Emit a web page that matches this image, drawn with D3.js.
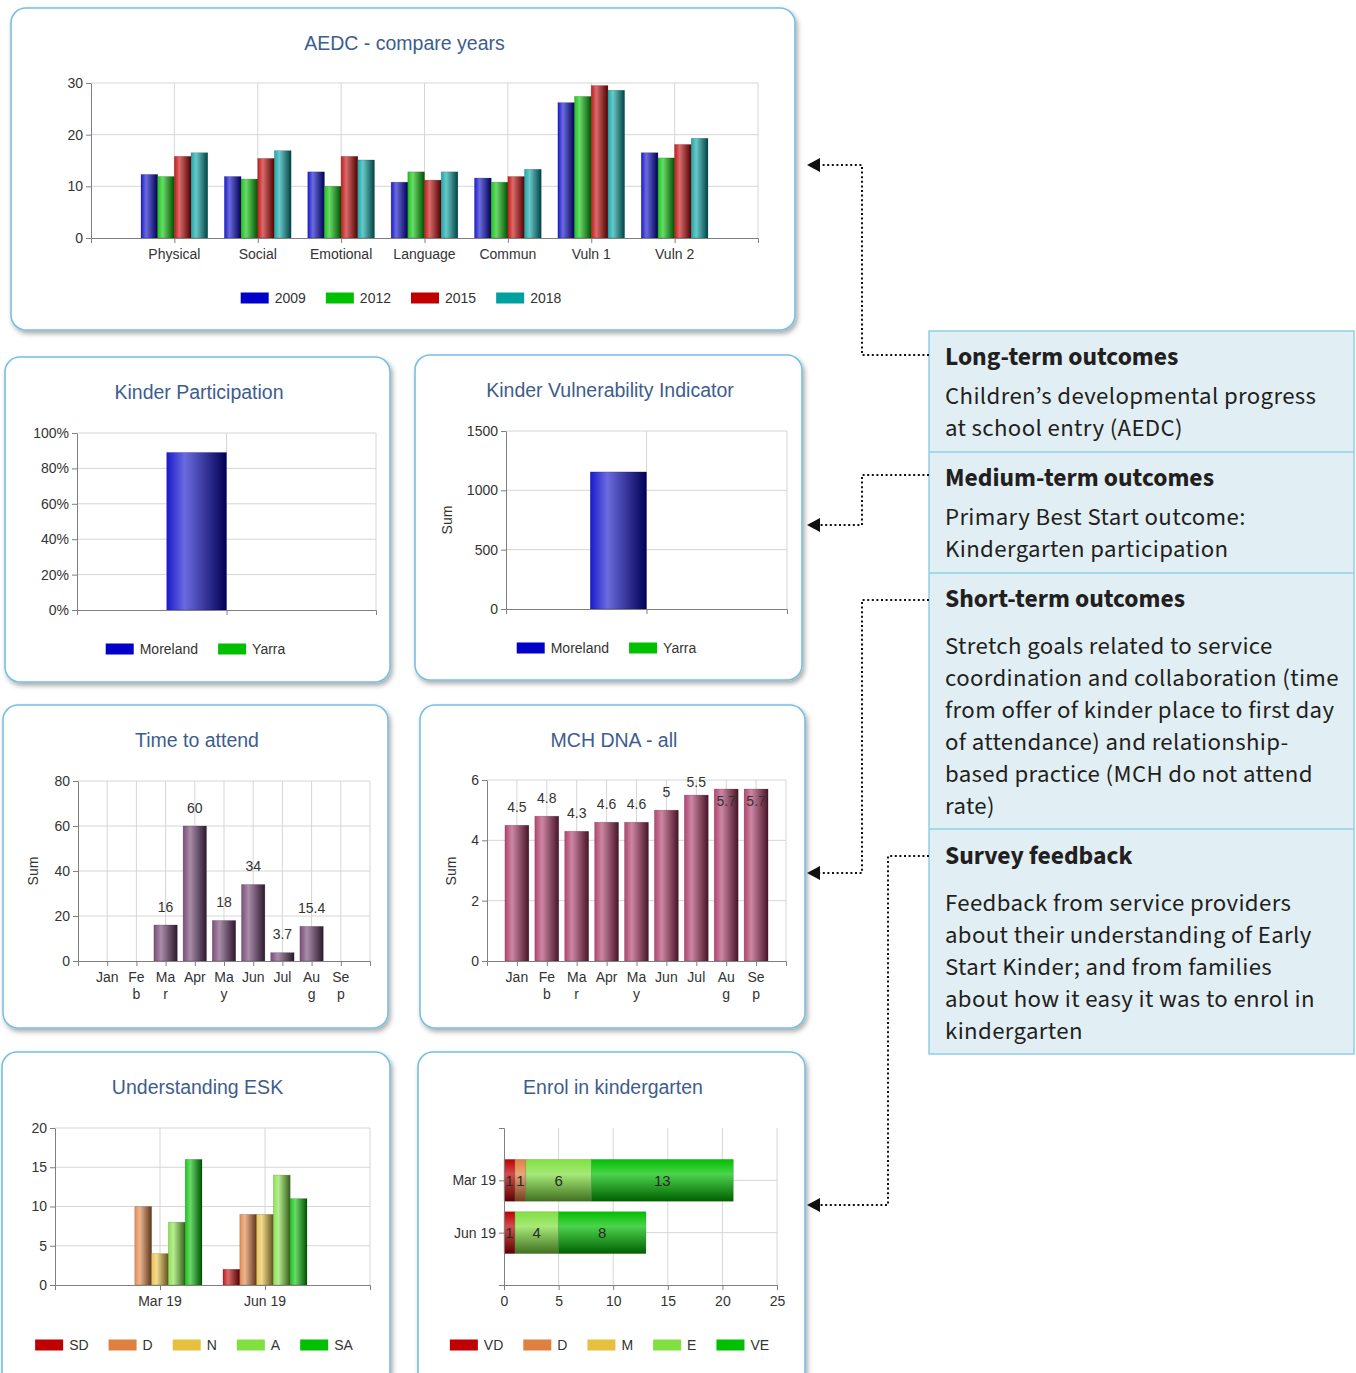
<!DOCTYPE html>
<html><head><meta charset="utf-8">
<script src="https://cdn.jsdelivr.net/npm/d3@7"></script>
<style>
body{margin:0;background:#fff;}
svg{display:block;}
</style></head><body>
<svg id="c" width="1356" height="1373"></svg>
<script>
// ---------------- DATA ----------------
const aedcCategories = ["Physical","Social","Emotional","Language","Commun","Vuln 1","Vuln 2"];
const aedcYears = ["2009","2012","2015","2018"];
const aedc2009 = [12.3,11.9,12.8,10.8,11.6,26.2,16.5];
const aedc2012 = [11.9,11.4,10.0,12.8,10.8,27.4,15.5];
const aedc2015 = [15.8,15.4,15.8,11.2,11.9,29.5,18.1];
const aedc2018 = [16.5,16.9,15.1,12.8,13.3,28.6,19.3];
const aedcTicks = [0,10,20,30];

const kinderRegions = ["Moreland","Yarra"];
const kinderCategory = [""];
const kinderParticipation = [0.89, 0];   // Moreland, Yarra
const kinderPartTicks = [0,0.2,0.4,0.6,0.8,1];
const kinderVulnerability = [1155, 0];   // Moreland, Yarra
const kinderVulnTicks = [0,500,1000,1500];

const months = ["Jan","Feb","Mar","Apr","May","Jun","Jul","Aug","Sep"];
const monthTickLabels = [["Jan"],["Fe","b"],["Ma","r"],["Apr"],["Ma","y"],["Jun"],["Jul"],["Au","g"],["Se","p"]];
const timeToAttend = [null,null,16,60,18,34,3.7,15.4,null];
const timeTicks = [0,20,40,60,80];
const mchDna = [4.5,4.8,4.3,4.6,4.6,5,5.5,5.7,5.7];
const mchTicks = [0,2,4,6];

const surveyPeriods = ["Mar 19","Jun 19"];
const eskLevels = ["SD","D","N","A","SA"];
const eskMar19 = [0,10,4,8,16];
const eskJun19 = [2,9,9,14,11];
const eskTicks = [0,5,10,15,20];

const enrolLevels = ["VD","D","M","E","VE"];
const enrolMar19 = [1,1,0,6,13];
const enrolJun19 = [1,0,0,4,8];
const enrolTicks = [0,5,10,15,20,25];

// ---------------- STYLE ----------------
const FONT = '"Liberation Sans", Arial, sans-serif';
const TXT = "#333333";
const GRID = "#d6d6d6";
const AXIS = "#7f7f7f";
const TITLE = "#3d5d8e";
const yearColors = ["#0000c8","#00c000","#c00000","#00a0a0"];
const regionColors = ["#0000c8","#00c000"];
const timeColor = "#6b3a6a";
const mchColor = "#a8305e";
const levelColors = ["#c00000","#e08040","#e8c040","#80e040","#00c000"];

const svg = d3.select("#c");
const defs = svg.append("defs");
const flt = defs.append("filter").attr("id","shadow").attr("x","-5%").attr("y","-5%").attr("width","112%").attr("height","115%");
flt.append("feDropShadow").attr("dx",2).attr("dy",3).attr("stdDeviation",2.5)
  .attr("flood-color","#000").attr("flood-opacity",0.33);

let gradN = 0;
function makeGrad(color, vertical) {
  const id = "grad" + (gradN++);
  const g = defs.append("linearGradient").attr("id", id)
    .attr("x1",0).attr("y1",0).attr("x2", vertical?0:1).attr("y2", vertical?1:0);
  const stops = vertical
    ? [[0, color],[0.35, d3.interpolateRgb(color,"#fff")(0.3)],[1, d3.interpolateRgb(color,"#000")(0.5)]]
    : [[0, d3.interpolateRgb(color,"#fff")(0.1)],[0.3, d3.interpolateRgb(color,"#fff")(0.42)],[1, d3.interpolateRgb(color,"#000")(0.58)]];
  stops.forEach(s => g.append("stop").attr("offset", s[0]).attr("stop-color", s[1]));
  return `url(#${id})`;
}

function panel(x, y, w, h, title, titleY) {
  svg.append("rect").attr("x",x).attr("y",y).attr("width",w).attr("height",h).attr("rx",15)
    .attr("fill","#fff").attr("stroke","#78bfe4").attr("stroke-width",1.6).attr("filter","url(#shadow)");
  svg.append("text").attr("x", x + w/2 + 1.5).attr("y", titleY).attr("text-anchor","middle")
    .attr("font-family",FONT).attr("font-size",19.5).attr("fill",TITLE).text(title);
  return x + w/2 - 2;
}

function styleAxis(a) {
  a.attr("font-family",FONT).attr("font-size",14);
  a.selectAll(".domain").attr("stroke",AXIS);
  a.selectAll(".tick line").attr("stroke",AXIS);
  a.selectAll(".tick text").attr("fill",TXT);
}

function legend(names, colors, y, cx) {
  const g = svg.append("g").attr("font-family",FONT).attr("font-size",14);
  let pos = 0;
  names.forEach((n, i) => {
    const it = g.append("g").attr("transform", `translate(${pos},0)`);
    it.append("rect").attr("x",0).attr("y",y-5.5).attr("width",28).attr("height",11).attr("fill",colors[i]);
    const t = it.append("text").attr("x",34).attr("y",y+5).attr("fill",TXT).text(n);
    pos += 34 + t.node().getComputedTextLength() + 20;
  });
  const total = pos - 20;
  g.attr("transform", `translate(${cx - total/2},0)`);
}

function sumLabel(x, y) {
  svg.append("text").attr("transform",`translate(${x},${y}) rotate(-90)`).attr("text-anchor","middle")
    .attr("dominant-baseline","central").attr("font-family",FONT).attr("font-size",14).attr("fill",TXT).text("Sum");
}

function vbar(o) {
  const g = svg.append("g");
  const x = d3.scalePoint().domain(o.categories).range([o.x0, o.x1]).padding(1);
  const groupW = x.step() * 0.8;
  const xs = d3.scaleBand().domain(o.series.map(s => s.key)).range([-groupW/2, groupW/2]);
  const y = d3.scaleLinear().domain(o.domain).range([o.yBot, o.yTop]);
  g.append("g").selectAll("line").data(o.ticks.slice(1)).join("line")
    .attr("x1",o.x0).attr("x2",o.x1).attr("y1",d=>y(d)).attr("y2",d=>y(d)).attr("stroke",GRID);
  g.append("g").selectAll("line").data(o.categories.map(c => x(c)).concat([o.x1])).join("line")
    .attr("x1",d=>d).attr("x2",d=>d).attr("y1",o.yTop).attr("y2",o.yBot).attr("stroke",GRID);
  o.series.forEach(s => {
    const fill = makeGrad(s.color, false);
    const dark = d3.interpolateRgb(s.color,"#000")(0.6);
    const data = o.categories.map((c,i) => ({c, v: s.values[i]})).filter(d => d.v);
    g.append("g").selectAll("rect").data(data).join("rect")
      .attr("x", d => x(d.c) + xs(s.key)).attr("width", xs.bandwidth())
      .attr("y", d => y(d.v)).attr("height", d => y(0) - y(d.v))
      .attr("fill", fill).attr("stroke", dark).attr("stroke-opacity",0.35).attr("stroke-width",0.6);
    if (o.valueLabels) {
      g.append("g").selectAll("text").data(data).join("text")
        .attr("x", d => x(d.c) + xs(s.key) + xs.bandwidth()/2)
        .attr("y", d => {
          const top = y(d.v);
          if (top - 13.5 - 10 >= o.yTop - 6) return top - 13.5;
          if (top - o.yTop >= 14) return o.yTop + 7;
          return top + 16.5;
        })
        .attr("text-anchor","middle").attr("font-family",FONT).attr("font-size",14).attr("fill",TXT)
        .text(d => d.v);
    }
  });
  const ya = g.append("g").attr("transform",`translate(${o.x0},0)`)
    .call(d3.axisLeft(y).tickValues(o.ticks).tickSize(5).tickSizeOuter(0).tickPadding(3).tickFormat(o.fmt || (d => d)));
  styleAxis(ya);
  const xa = g.append("g").attr("transform",`translate(0,${o.yBot})`)
    .call(d3.axisBottom(x).tickSize(5).tickSizeOuter(5).tickFormat(""));
  styleAxis(xa);
  if (o.xLabels) {
    const lg = g.append("g").attr("font-family",FONT).attr("font-size",14).attr("fill",TXT).attr("text-anchor","middle");
    o.categories.forEach((c, i) => {
      o.xLabels[i].forEach((line, li) => {
        lg.append("text").attr("x", x(c)).attr("y", o.yBot + 20.5 + li*17).text(line);
      });
    });
  }
}

function hstack(o) {
  const g = svg.append("g");
  const y = d3.scalePoint().domain(o.categories).range([o.yTop, o.yBot]).padding(1);
  const bh = y.step() * 0.8;
  const x = d3.scaleLinear().domain(o.domain).range([o.x0, o.x1]);
  g.append("g").selectAll("line").data(o.ticks.slice(1)).join("line")
    .attr("x1",d=>x(d)).attr("x2",d=>x(d)).attr("y1",o.yTop).attr("y2",o.yBot).attr("stroke",GRID);
  g.append("g").selectAll("line").data(o.categories).join("line")
    .attr("x1",o.x0).attr("x2",o.x1).attr("y1",d=>y(d)).attr("y2",d=>y(d)).attr("stroke",GRID);
  const stacked = d3.stack().keys(o.keys)(o.rows);
  stacked.forEach((layer, li) => {
    const fill = makeGrad(o.colors[li], true);
    const dark = d3.interpolateRgb(o.colors[li],"#000")(0.6);
    const segs = layer.filter(d => d[1] - d[0] > 0);
    g.append("g").selectAll("rect").data(segs).join("rect")
      .attr("x", d => x(d[0])).attr("width", d => x(d[1]) - x(d[0]))
      .attr("y", d => y(d.data.period) - bh/2).attr("height", bh)
      .attr("fill", fill).attr("stroke", dark).attr("stroke-opacity",0.3).attr("stroke-width",0.6);
    g.append("g").selectAll("text").data(segs).join("text")
      .attr("x", d => x((d[0] + d[1]) / 2)).attr("y", d => y(d.data.period)).attr("dy","0.36em")
      .attr("text-anchor","middle").attr("font-family",FONT).attr("font-size",15).attr("fill","#2a2a2a")
      .text(d => d[1] - d[0]);
  });
  const ya = g.append("g").attr("transform",`translate(${o.x0},0)`)
    .call(d3.axisLeft(y).tickSize(5).tickSizeOuter(5).tickPadding(3));
  styleAxis(ya);
  const xa = g.append("g").attr("transform",`translate(0,${o.yBot})`)
    .call(d3.axisBottom(x).tickValues(o.ticks).tickSize(5).tickSizeOuter(0).tickPadding(6));
  styleAxis(xa);
}

// ---------------- AEDC ----------------
let cx = panel(11, 8, 784, 322, "AEDC - compare years", 50);
vbar({
  categories: aedcCategories,
  series: aedcYears.map((k,i) => ({key:k, color: yearColors[i], values: [aedc2009,aedc2012,aedc2015,aedc2018][i]})),
  x0: 91, x1: 758, yTop: 83, yBot: 238, domain: [0,30], ticks: aedcTicks,
  xLabels: aedcCategories.map(c => [c])
});
legend(aedcYears, yearColors, 298, cx);

// ---------------- Kinder Participation ----------------
cx = panel(5, 357, 385, 325, "Kinder Participation", 399);
vbar({
  categories: kinderCategory,
  series: kinderRegions.map((k,i) => ({key:k, color: regionColors[i], values:[kinderParticipation[i]]})),
  x0: 77, x1: 376, yTop: 433, yBot: 610, domain: [0,1], ticks: kinderPartTicks, fmt: d3.format(".0%")
});
legend(kinderRegions, regionColors, 649, cx);

// ---------------- Kinder Vulnerability ----------------
cx = panel(415, 355, 387, 325, "Kinder Vulnerability Indicator", 397);
vbar({
  categories: kinderCategory,
  series: kinderRegions.map((k,i) => ({key:k, color: regionColors[i], values:[kinderVulnerability[i]]})),
  x0: 506, x1: 787, yTop: 431, yBot: 609, domain: [0,1500], ticks: kinderVulnTicks
});
sumLabel(447, 520);
legend(kinderRegions, regionColors, 648, cx);

// ---------------- Time to attend ----------------
panel(3, 705, 385, 323, "Time to attend", 747);
vbar({
  categories: months,
  series: [{key:"Sum", color: timeColor, values: timeToAttend}],
  x0: 78, x1: 370, yTop: 781, yBot: 961, domain: [0,80], ticks: timeTicks,
  xLabels: monthTickLabels, valueLabels: true
});
sumLabel(33, 871);

// ---------------- MCH DNA ----------------
panel(420, 705, 385, 323, "MCH DNA - all", 747);
vbar({
  categories: months,
  series: [{key:"Sum", color: mchColor, values: mchDna}],
  x0: 487, x1: 786, yTop: 780, yBot: 961, domain: [0,6], ticks: mchTicks,
  xLabels: monthTickLabels, valueLabels: true
});
sumLabel(451, 871);

// ---------------- Understanding ESK ----------------
cx = panel(2, 1052, 388, 335, "Understanding ESK", 1094);
vbar({
  categories: surveyPeriods,
  series: eskLevels.map((k,i) => ({key:k, color: levelColors[i], values:[eskMar19[i], eskJun19[i]]})),
  x0: 55, x1: 370, yTop: 1128, yBot: 1285, domain: [0,20], ticks: eskTicks,
  xLabels: surveyPeriods.map(p => [p])
});
legend(eskLevels, levelColors, 1345, cx);

// ---------------- Enrol in kindergarten ----------------
cx = panel(418, 1052, 387, 335, "Enrol in kindergarten", 1094);
hstack({
  categories: surveyPeriods,
  keys: enrolLevels,
  rows: [enrolMar19, enrolJun19].map((vals, r) => {
    const o = {period: surveyPeriods[r]};
    enrolLevels.forEach((k,i) => o[k] = vals[i]);
    return o;
  }),
  colors: levelColors,
  x0: 504, x1: 777, yTop: 1128, yBot: 1285, domain: [0,25], ticks: enrolTicks
});
legend(enrolLevels, levelColors, 1345, cx);

// ---------------- Outcome boxes & connectors ----------------
const boxSections = [
  {title:"Long-term outcomes", y0:331, titleY:365, lines:["Children’s developmental progress","at school entry (AEDC)"], lineY:404, arrow:{hx:862, from:355, to:165}},
  {title:"Medium-term outcomes", y0:452, titleY:486, lines:["Primary Best Start outcome:","Kindergarten participation"], lineY:525, arrow:{hx:862, from:475, to:525}},
  {title:"Short-term outcomes", y0:573, titleY:607, lines:["Stretch goals related to service","coordination and collaboration (time","from offer of kinder place to first day","of attendance) and relationship-","based practice (MCH do not attend","rate)"], lineY:654, arrow:{hx:862, from:600, to:873}},
  {title:"Survey feedback", y0:829, titleY:864, lines:["Feedback from service providers","about their understanding of Early","Start Kinder; and from families","about how it easy it was to enrol in","kindergarten"], lineY:911, arrow:{hx:888, from:856, to:1205}}
];
const BOXX = 929, BOXW = 425;
const SFONT = '"Source Sans Pro","Source Sans 3",Lato,"Noto Sans",sans-serif';
svg.append("rect").attr("x",BOXX).attr("y",331).attr("width",BOXW).attr("height",723)
  .attr("fill","#e1eff5").attr("stroke","#8fd0e4").attr("stroke-width",1.5);
boxSections.slice(1).forEach(s => svg.append("line").attr("x1",BOXX).attr("x2",BOXX+BOXW)
  .attr("y1",s.y0).attr("y2",s.y0).attr("stroke","#8fd0e4").attr("stroke-width",1.5));

// calibrate font sizes to the reference widths (keep glyph boxes within the 32px line pitch)
const refLine = "Children’s developmental progress";
const probe = svg.append("text").attr("font-family",SFONT).attr("font-size",100).text(refLine);
const bodySize = Math.min(24.8, 100 * 371 / probe.node().getComputedTextLength());
probe.attr("font-size", bodySize);
const bodySpacing = Math.max(0, (371 - probe.node().getComputedTextLength()) / (refLine.length - 1));
probe.attr("font-size",100).attr("font-weight","bold").text("Medium-term outcomes");
const headSize = 100 * 269 / probe.node().getComputedTextLength();
probe.remove();

boxSections.forEach(s => {
  svg.append("text").attr("x",945).attr("y",s.titleY).attr("font-family",SFONT).attr("font-weight","bold")
    .attr("font-size",headSize).attr("fill","#231f20").text(s.title);
  s.lines.forEach((l,i) => svg.append("text").attr("x",945).attr("y",s.lineY + i*32)
    .attr("font-family",SFONT).attr("font-size",bodySize).attr("letter-spacing",bodySpacing)
    .attr("fill","#231f20").text(l));
  const a = s.arrow;
  svg.append("path").attr("d",`M${BOXX},${a.from}H${a.hx}V${a.to}H820`).attr("fill","none")
    .attr("stroke","#111").attr("stroke-width",2).attr("stroke-dasharray","2,2.6");
  svg.append("path").attr("d",`M807,${a.to}L820,${a.to-7}L820,${a.to+7}Z`).attr("fill","#111");
});
</script>
</body></html>
